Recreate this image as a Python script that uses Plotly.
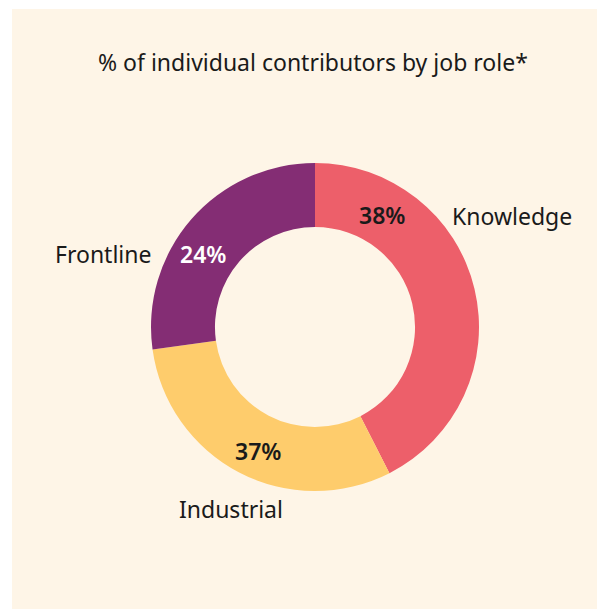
import plotly.graph_objects as go

# Data
categories = ["Knowledge", "Industrial", "Frontline"]
slice_shares = [42.5, 30.3, 27.2]          # slice sizes as drawn
pct_labels = ["38%", "37%", "24%"]          # printed labels
colors = ["#ED5F6A", "#FECC6C", "#842D74"]
pct_text_colors = ["#1a1a1a", "#1a1a1a", "#ffffff"]

W, H = 605, 609
OFF = 8  # page body margin
CREAM = "#FEF5E7"
FONT = "Noto Sans"

cx, cy, R = 315 - OFF, 327 - OFF, 164

fig = go.Figure()
fig.add_trace(go.Pie(
    labels=categories,
    values=slice_shares,
    hole=0.61,
    sort=False,
    direction="clockwise",
    rotation=0,
    marker=dict(colors=colors, line=dict(width=0)),
    textinfo="none",
    hoverinfo="label+percent",
    showlegend=False,
    domain=dict(x=[(cx - R) / W, (cx + R) / W],
                y=[(H - cy - R) / H, (H - cy + R) / H]),
))

# label positions in page pixels (x, y from top)
pct_pos = [(382, 215), (258, 451), (203, 254)]
name_pos = [(512, 216), (231, 509), (103, 254)]


def px(x):
    return (x - OFF) / W


def py(y):
    return 1 - (y - OFF) / H


annotations = []
for i, cat in enumerate(categories):
    ax, ay = pct_pos[i]
    annotations.append(dict(
        x=px(ax), y=py(ay), xref="paper", yref="paper",
        text=pct_labels[i], showarrow=False,
        font=dict(family=FONT, size=23, color=pct_text_colors[i], weight=600),
        xanchor="center", yanchor="middle"))
    nx, ny = name_pos[i]
    annotations.append(dict(
        x=px(nx), y=py(ny), xref="paper", yref="paper",
        text=cat, showarrow=False,
        font=dict(family=FONT, size=23, color="#1a1a1a"),
        xanchor="center", yanchor="middle"))

annotations.append(dict(
    x=px(313), y=py(62), xref="paper", yref="paper",
    text="% of individual contributors by job role*", showarrow=False,
    font=dict(family=FONT, size=23, color="#1a1a1a"),
    xanchor="center", yanchor="middle"))

fig.update_layout(
    width=W, height=H,
    margin=dict(l=0, r=0, t=0, b=0),
    paper_bgcolor="white",
    plot_bgcolor="white",
    annotations=annotations,
    shapes=[dict(type="rect", xref="paper", yref="paper",
                 x0=px(12), x1=1, y0=0, y1=py(9),
                 fillcolor=CREAM, line=dict(width=0), layer="below")],
)

fig.write_html("out.html")
